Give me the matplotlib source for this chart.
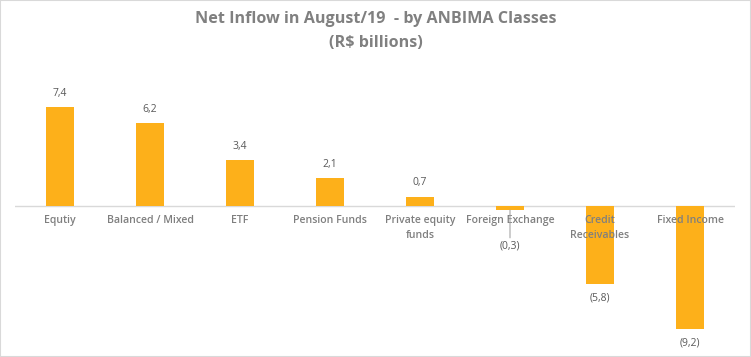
import numpy as np
import matplotlib.pyplot as plt
from matplotlib.patches import Rectangle

categories = ["Equtiy", "Balanced / Mixed", "ETF", "Pension Funds",
              "Private equity\nfunds", "Foreign Exchange", "Credit\nReceivables",
              "Fixed Income"]
values = [7.4, 6.2, 3.4, 2.1, 0.7, -0.3, -5.8, -9.2]
value_labels = ["7,4", "6,2", "3,4", "2,1", "0,7", "(0,3)", "(5,8)", "(9,2)"]

W, H = 751, 357
fig = plt.figure(figsize=(W / 100, H / 100), dpi=100)
fig.patches.append(Rectangle((0, 0), 1, 1, transform=fig.transFigure,
                             fill=False, edgecolor="#d9d9d9", lw=1.5))

# axes in pixel coords: left 15, right 735, top 85, bottom 335
ax = fig.add_axes([15 / W, 1 - 335 / H, 720 / W, 250 / H])
px = 13.4
ax.set_ylim(-(335 - 206) / px, (206 - 85) / px)
x = np.arange(len(categories))
ax.set_xlim(-0.5, len(categories) - 0.5)
ax.bar(x, values, width=0.31, color="#fdb01a", zorder=2)
ax.axhline(0, color="#d9d9d9", lw=1, zorder=1)
for s in ax.spines.values():
    s.set_visible(False)
ax.set_xticks([])
ax.set_yticks([])

font = "Open Sans"
for i, (c, v, lab) in enumerate(zip(categories, values, value_labels)):
    ax.annotate(c, (i, 0), xytext=(0, -6.5), textcoords="offset points",
                ha="center", va="top", fontsize=7.6, color="#7f7f7f",
                family=font, fontweight="semibold", linespacing=1.45, zorder=3)
    if v > 0:
        ax.annotate(lab, (i, v), xytext=(0, 6), textcoords="offset points",
                    ha="center", va="bottom", fontsize=7.5, color="#595959",
                    family=font)
    elif lab == "(0,3)":
        ax.annotate(lab, (i, v), xytext=(0, -22), textcoords="offset points",
                    ha="center", va="top", fontsize=7.5, color="#595959",
                    family=font,
                    arrowprops=dict(arrowstyle="-", color="#a6a6a6", lw=0.8,
                                    shrinkA=0, shrinkB=0))
    else:
        ax.annotate(lab, (i, v), xytext=(0, -6), textcoords="offset points",
                    ha="center", va="top", fontsize=7.5, color="#595959",
                    family=font)

fig.text(0.5, 1 - 31 / H, "Net Inflow in August/19  - by ANBIMA Classes\n(R$ billions)",
         ha="center", va="center", fontsize=11.6, fontweight="bold",
         color="#808080", family=font, linespacing=1.6)

fig.savefig("out.png", dpi=100)
